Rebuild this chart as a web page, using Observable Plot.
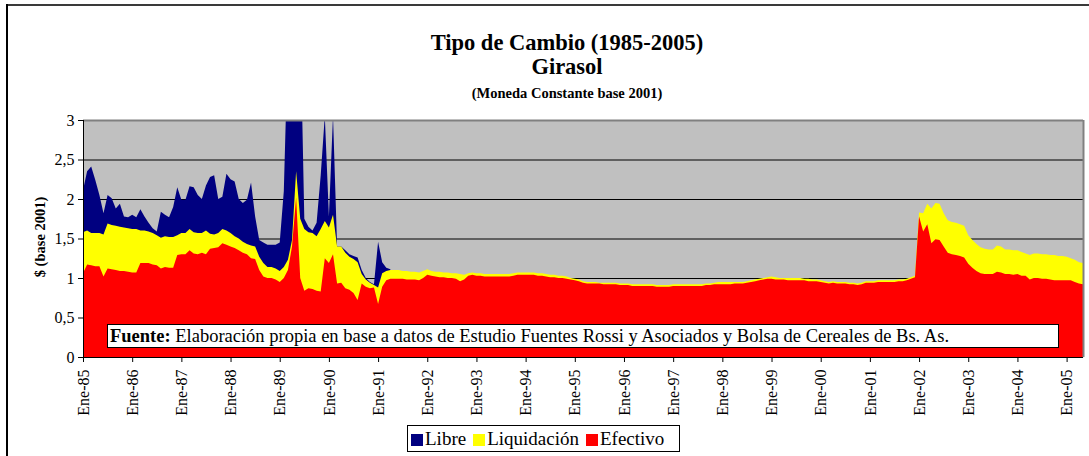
<!DOCTYPE html>
<html>
<head>
<meta charset="utf-8">
<script src="https://cdn.jsdelivr.net/npm/d3@7"></script>
<script src="https://cdn.jsdelivr.net/npm/@observablehq/plot@0.6"></script>
<style>
  html, body { margin: 0; padding: 0; background: #fff; }
  #wrap { position: relative; width: 1089px; height: 456px; overflow: hidden; font-family: "Liberation Serif", "Times New Roman", serif; color: #000; }
  #chart { position: absolute; left: 0; top: 0; }
  .t { position: absolute; left: 267px; width: 600px; text-align: center; font-weight: bold; white-space: nowrap; font-family: "Liberation Serif", serif; }
  #frameTop { position: absolute; left: 6px; top: 4px; width: 1083px; height: 0; border-top: 2px solid #3a3a3a; }
  #frameLeft { position: absolute; left: 6px; top: 4px; width: 0; height: 452px; border-left: 2px solid #000; }
  #ylab { position: absolute; left: 40px; top: 237px; transform: translate(-50%, -50%) rotate(-90deg); font-weight: bold; font-size: 14.5px; white-space: nowrap; font-family: "Liberation Serif", serif; }
  #fuente { position: absolute; left: 107px; top: 324px; width: 948px; height: 22px; border: 1.5px solid #000; background: #fff; font-size: 18.5px; line-height: 22px; padding-left: 2px; white-space: nowrap; font-family: "Liberation Serif", serif; }
  #legend { position: absolute; left: 407px; top: 425px; width: 273px; height: 27px; border: 1px solid #000; background: #fff; font-size: 19px; line-height: 26px; white-space: nowrap; box-sizing: border-box; padding-left: 3px; font-family: "Liberation Serif", serif; }
  #legend span.sw { display: inline-block; width: 12px; height: 12px; margin-right: 2px; vertical-align: -1px; }
  #legend span.it { margin-right: 7px; font-family: "Liberation Serif", serif; }
</style>
</head>
<body>
<div id="wrap">
  <div id="frameTop"></div>
  <div id="frameLeft"></div>
  <div id="chart"></div>
  <div class="t" style="top:30px;font-size:22.5px;">Tipo de Cambio (1985-2005)</div>
  <div class="t" style="top:54px;font-size:22.5px;">Girasol</div>
  <div class="t" style="top:85px;font-size:14.5px;">(Moneda Constante base 2001)</div>
  <div id="ylab">$ (base 2001)</div>
  <div id="fuente"><b>Fuente:</b> Elaboración propia en base a datos de Estudio Fuentes Rossi y Asociados y Bolsa de Cereales de Bs. As.</div>
  <div id="legend"></div>
</div>
<script>
// Series names and colours
const seriesNames = ["Libre", "Liquidación", "Efectivo"];
const seriesColors = ["#000080", "#FFFF00", "#FF0000"];

// X tick labels (one per January, 1985..2005)
const tickLabels = ["Ene-85","Ene-86","Ene-87","Ene-88","Ene-89","Ene-90","Ene-91","Ene-92","Ene-93","Ene-94","Ene-95","Ene-96","Ene-97","Ene-98","Ene-99","Ene-00","Ene-01","Ene-02","Ene-03","Ene-04","Ene-05"];

// Y ticks
const yTicks = [0, 0.5, 1, 1.5, 2, 2.5, 3];

// Libre (monthly, Jan 1985 - Apr 1991)
const libre = [
  2.11, 2.35, 2.41, 2.24, 2.05, 1.82, 2.05, 2.01, 1.88, 1.94, 1.78, 1.77,
  1.80, 1.77, 1.87, 1.78, 1.70, 1.63, 1.59, 1.84, 1.80, 1.77, 1.90, 2.15,
  1.99, 1.99, 2.16, 2.15, 2.05, 2.00, 2.17, 2.28, 2.30, 2.00, 2.03, 2.32,
  2.25, 2.22, 2.00, 1.95, 1.99, 2.21, 1.78, 1.48, 1.45, 1.42, 1.42, 1.42,
  1.45, 2.10, 4.00, 4.50, 4.50, 4.30, 1.75, 1.65, 1.60, 1.70, 2.30, 3.05,
  1.78, 3.05, 1.40, 1.40, 1.35, 1.30, 1.28, 1.26, 1.10, 1.00, 0.95, 0.92,
  1.46, 1.20, 1.13, 1.11
];

// Liquidación (monthly, Jan 1985 - May 2005)
const liquidacion = [
  1.58, 1.60, 1.57, 1.57, 1.57, 1.55, 1.69, 1.67, 1.66, 1.65, 1.64, 1.63,
  1.62, 1.62, 1.60, 1.60, 1.59, 1.57, 1.54, 1.51, 1.53, 1.52, 1.52, 1.54,
  1.57, 1.57, 1.62, 1.58, 1.57, 1.57, 1.60, 1.56, 1.55, 1.57, 1.62, 1.60,
  1.57, 1.53, 1.50, 1.46, 1.43, 1.41, 1.40, 1.27, 1.19, 1.14, 1.14, 1.12,
  1.09, 1.14, 1.23, 1.48, 2.35, 1.75, 1.62, 1.58, 1.57, 1.53, 1.62, 1.72,
  1.64, 1.80, 1.40, 1.40, 1.32, 1.27, 1.24, 1.20, 1.05, 0.98, 0.94, 0.91,
  0.88, 1.06, 1.09, 1.10, 1.10, 1.10, 1.09, 1.09, 1.08, 1.08, 1.07, 1.09,
  1.11, 1.09, 1.08, 1.08, 1.07, 1.07, 1.06, 1.06, 1.05, 1.04, 1.06, 1.07,
  1.06, 1.06, 1.05, 1.05, 1.05, 1.05, 1.05, 1.05, 1.05, 1.06, 1.07, 1.07,
  1.07, 1.07, 1.07, 1.06, 1.06, 1.05, 1.04, 1.04, 1.03, 1.03, 1.02, 1.00,
  0.99, 0.98, 0.96, 0.95, 0.95, 0.95, 0.94, 0.94, 0.94, 0.94, 0.94, 0.93,
  0.93, 0.93, 0.92, 0.92, 0.92, 0.92, 0.92, 0.92, 0.91, 0.91, 0.91, 0.91,
  0.92, 0.92, 0.92, 0.92, 0.92, 0.92, 0.92, 0.92, 0.93, 0.93, 0.94, 0.95,
  0.95, 0.95, 0.95, 0.95, 0.95, 0.95, 0.96, 0.97, 0.98, 0.99, 1.00, 1.01,
  1.02, 1.01, 1.00, 1.00, 1.00, 1.00, 1.00, 1.00, 0.99, 0.99, 0.98, 0.98,
  0.97, 0.96, 0.95, 0.96, 0.95, 0.95, 0.95, 0.94, 0.94, 0.93, 0.94, 0.96,
  0.96, 0.96, 0.97, 0.97, 0.97, 0.97, 0.97, 0.98, 0.98, 0.99, 1.01, 1.03,
  1.83, 1.82, 1.94, 1.88, 1.95, 1.94, 1.82, 1.73, 1.71, 1.70, 1.68, 1.66,
  1.54, 1.48, 1.43, 1.39, 1.37, 1.36, 1.36, 1.41, 1.40, 1.36, 1.36, 1.35,
  1.35, 1.33, 1.31, 1.29, 1.31, 1.31, 1.30, 1.30, 1.29, 1.29, 1.28, 1.28,
  1.27, 1.25, 1.23, 1.20, 1.19
];

// Efectivo (monthly, Jan 1985 - May 2005)
const efectivo = [
  1.06, 1.17, 1.16, 1.15, 1.15, 1.02, 1.12, 1.11, 1.10, 1.09, 1.09, 1.08,
  1.07, 1.07, 1.19, 1.19, 1.19, 1.17, 1.16, 1.12, 1.14, 1.13, 1.13, 1.29,
  1.30, 1.30, 1.35, 1.31, 1.30, 1.32, 1.30, 1.37, 1.38, 1.39, 1.44, 1.42,
  1.40, 1.38, 1.35, 1.32, 1.30, 1.25, 1.24, 1.10, 1.02, 1.00, 1.00, 0.98,
  0.95, 1.00, 1.10, 1.40, 2.02, 1.00, 0.84, 0.87, 0.86, 0.84, 0.83, 1.25,
  1.19, 1.30, 0.93, 0.94, 0.87, 0.85, 0.81, 0.72, 0.93, 0.89, 0.87, 0.88,
  0.67, 0.89, 0.97, 0.99, 0.99, 0.99, 0.99, 0.98, 0.98, 0.98, 0.97, 1.00,
  1.04, 1.03, 1.02, 1.01, 1.01, 1.00, 1.00, 0.99, 0.96, 0.98, 1.03, 1.04,
  1.03, 1.03, 1.02, 1.02, 1.02, 1.02, 1.02, 1.02, 1.02, 1.03, 1.04, 1.04,
  1.04, 1.04, 1.04, 1.03, 1.03, 1.02, 1.01, 1.01, 1.00, 1.00, 0.99, 0.98,
  0.97, 0.96, 0.94, 0.93, 0.93, 0.93, 0.93, 0.92, 0.92, 0.92, 0.92, 0.91,
  0.91, 0.91, 0.90, 0.90, 0.90, 0.90, 0.90, 0.90, 0.89, 0.89, 0.89, 0.89,
  0.90, 0.90, 0.90, 0.90, 0.90, 0.90, 0.90, 0.90, 0.91, 0.91, 0.92, 0.92,
  0.92, 0.92, 0.92, 0.93, 0.93, 0.93, 0.94, 0.95, 0.96, 0.97, 0.98, 0.99,
  0.99, 0.98, 0.98, 0.98, 0.97, 0.97, 0.97, 0.97, 0.97, 0.96, 0.96, 0.96,
  0.95, 0.94, 0.93, 0.94, 0.93, 0.93, 0.93, 0.92, 0.92, 0.91, 0.92, 0.94,
  0.94, 0.94, 0.95, 0.95, 0.95, 0.95, 0.95, 0.96, 0.96, 0.97, 0.99, 1.01,
  1.78, 1.59, 1.68, 1.44, 1.49, 1.48, 1.40, 1.32, 1.30, 1.29, 1.28, 1.26,
  1.18, 1.13, 1.09, 1.06, 1.05, 1.05, 1.05, 1.08, 1.07, 1.05, 1.05, 1.04,
  1.05, 1.03, 1.03, 0.98, 1.00, 1.00, 0.99, 0.99, 0.98, 0.97, 0.97, 0.97,
  0.97, 0.97, 0.95, 0.93, 0.92
];

const dLibre = libre.map((v, i) => ({i, v}));
const dLiq = liquidacion.map((v, i) => ({i, v}));
const dEf = efectivo.map((v, i) => ({i, v}));
const lastIndex = liquidacion.length - 1;

const plot = Plot.plot({
  width: 1089,
  height: 456,
  marginLeft: 83,
  marginRight: 6,
  marginTop: 120,
  marginBottom: 99,
  style: {fontFamily: "'Liberation Serif', 'Times New Roman', serif", fontSize: "16px", background: "transparent", color: "#000"},
  x: {
    type: "linear",
    domain: [0, lastIndex],
    ticks: tickLabels.map((_, k) => k * 12),
    tickFormat: (d) => tickLabels[d / 12],
    tickRotate: -90,
    tickSize: 5,
    tickPadding: 7,
    label: null
  },
  y: {
    domain: [0, 3],
    ticks: yTicks,
    tickFormat: (d) => String(d).replace(".", ","),
    tickSize: 5,
    tickPadding: 4,
    label: null
  },
  marks: [
    Plot.frame({fill: "#C0C0C0", stroke: "none"}),
    Plot.ruleY(yTicks.filter(d => d > 0 && d < 3), {stroke: "#000", strokeWidth: 1}),
    Plot.areaY(dLibre, {x: "i", y: "v", fill: seriesColors[0], clip: true}),
    Plot.areaY(dLiq, {x: "i", y: "v", fill: seriesColors[1], clip: true}),
    Plot.areaY(dEf, {x: "i", y: "v", fill: seriesColors[2], clip: true}),
    Plot.ruleY([3], {stroke: "#808080", strokeWidth: 2}),
    Plot.ruleX([lastIndex], {stroke: "#808080", strokeWidth: 2}),
    Plot.ruleX([0], {stroke: "#000", strokeWidth: 1}),
    Plot.ruleY([0], {stroke: "#000", strokeWidth: 1})
  ]
});
document.getElementById("chart").appendChild(plot);

const legend = document.getElementById("legend");
seriesNames.forEach((name, k) => {
  const it = document.createElement("span");
  it.className = "it";
  const sw = document.createElement("span");
  sw.className = "sw";
  sw.style.background = seriesColors[k];
  it.appendChild(sw);
  it.appendChild(document.createTextNode(name));
  legend.appendChild(it);
});
</script>
</body>
</html>
